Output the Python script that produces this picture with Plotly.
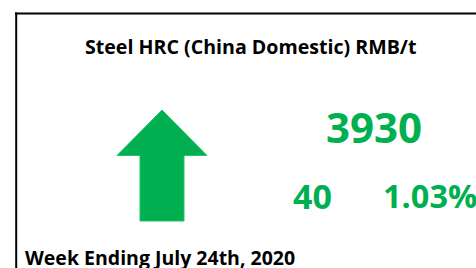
import plotly.graph_objects as go

# ---- data ----
chart_title = "Steel HRC (China Domestic) RMB/t"
price_value = [3930]
change_abs = [40]
change_pct = [1.03]
week_label = "Week Ending July 24th, 2020"

GREEN = "#00B050"
FONT = "Open Sans"

W, H = 476, 268

fig = go.Figure()

# up arrow (direction from sign of change)
up = change_abs[0] >= 0
tip_y, head_y, base_y = (110, 155.5, 221) if up else (221, 175.5, 110)
arrow_x = [162, 207, 184, 184, 140, 140, 117, 162]
arrow_y = [tip_y, head_y, head_y, base_y, base_y, head_y, head_y, tip_y]
fig.add_trace(go.Scatter(
    x=arrow_x, y=arrow_y, mode="lines", fill="toself",
    fillcolor=GREEN, line=dict(color="#1CC468", width=1),
    hoverinfo="skip", showlegend=False,
))

# border lines
fig.add_shape(type="line", x0=15, x1=W + 2, y0=13.5, y1=13.5,
              line=dict(color="black", width=2.2))
fig.add_shape(type="line", x0=16.2, x1=16.2, y0=12.5, y1=H + 2,
              line=dict(color="black", width=2))

annos = [
    dict(text=f"<b>{chart_title}</b>", x=250, y=46.3, xanchor="center",
         font=dict(size=19.6, color="black")),
    dict(text=f"<b>{price_value[0]}</b>", x=373.5, y=126.5, xanchor="center",
         font=dict(size=42, color=GREEN)),
    dict(text=f"<b>{change_abs[0]}</b>", x=312.5, y=195.5, xanchor="center",
         font=dict(size=34, color=GREEN)),
    dict(text=f"<b>{change_pct[0]:.2f}%</b>", x=430, y=195.5, xanchor="center",
         font=dict(size=32.5, color=GREEN)),
    dict(text=f"<b>{week_label}</b>", x=24.3, y=257.3, xanchor="left",
         font=dict(size=19.5, color="black")),
]
for a in annos:
    fig.add_annotation(xref="x", yref="y", showarrow=False, yanchor="middle",
                       borderpad=0, **{k: v for k, v in a.items()})

fig.update_layout(
    width=W, height=H, autosize=False,
    margin=dict(l=0, r=0, t=0, b=0, pad=0),
    paper_bgcolor="white", plot_bgcolor="white",
    font=dict(family=FONT),
    xaxis=dict(range=[0, W], visible=False, fixedrange=True),
    yaxis=dict(range=[H, 0], visible=False, fixedrange=True),
    showlegend=False,
)

fig.write_html(
    "out.html",
    config={"displayModeBar": False},
    post_script="document.body.style.margin='0';document.body.style.overflow='hidden';",
)
